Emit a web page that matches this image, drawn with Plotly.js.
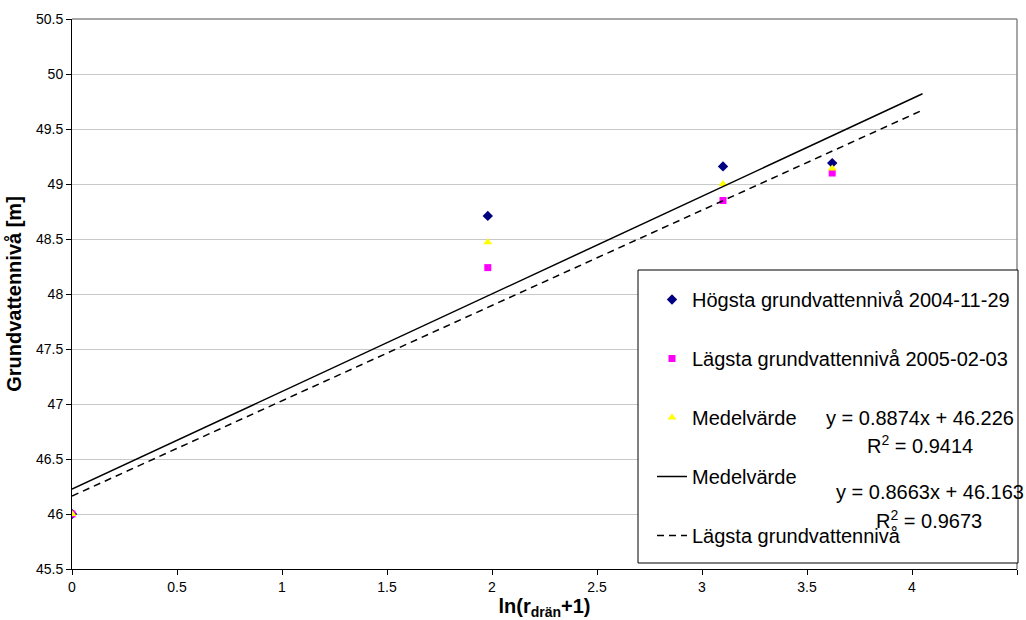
<!DOCTYPE html>
<html><head><meta charset="utf-8">
<script src="https://cdn.plot.ly/plotly-3.0.1.min.js"></script>
<style>body{margin:0;background:#fff}#c{width:1026px;height:620px}</style>
</head><body><div id="c"></div>
<script>
const xVals = [0, 1.98, 3.10, 3.62];
const hogsta = [46.0, 48.71, 49.16, 49.19];
const lagsta = [46.0, 48.24, 48.85, 49.10];
const medel  = [46.0, 48.47, 49.00, 49.14];
const trendX = [0, 4.05];
const medelSlope = 0.8874, medelIntercept = 46.226;
const lagstaSlope = 0.8663, lagstaIntercept = 46.163;
const names = ["Högsta grundvattennivå 2004-11-29","Lägsta grundvattennivå 2005-02-03","Medelvärde","Medelvärde","Lägsta grundvattennivå"];
const eq1 = ["y = 0.8874x + 46.226","R<sup>2</sup> = 0.9414"];
const eq2 = ["y = 0.8663x + 46.163","R<sup>2</sup> = 0.9673"];
const yTicks = [45.5,46,46.5,47,47.5,48,48.5,49,49.5,50,50.5];
const xTicks = [0,0.5,1,1.5,2,2.5,3,3.5,4,4.5];

const L=72,R=1017,T=19,B=569;
const px=x=>(x-L)/(R-L), py=y=>(B-y)/(B-T);
const FAM='"Liberation Sans", Arial, sans-serif';

const traces = [
 {x:xVals,y:hogsta,mode:'markers',name:names[0],legendgroup:'a',marker:{symbol:'diamond',size:8,color:'#000080'}},
 {x:xVals,y:lagsta,mode:'markers',name:names[1],legendgroup:'b',marker:{symbol:'square',size:7,color:'#FF00FF'}},
 {x:xVals,y:medel,mode:'markers',name:names[2],legendgroup:'c',marker:{symbol:'triangle-up',size:8,color:'#FFFF00'}},
 {x:trendX,y:trendX.map(x=>medelSlope*x+medelIntercept),mode:'lines',name:names[3],legendgroup:'d',line:{color:'#000',width:1.5}},
 {x:trendX,y:trendX.map(x=>lagstaSlope*x+lagstaIntercept),mode:'lines',name:names[4],legendgroup:'e',line:{color:'#000',width:1.5,dash:'7px,5px'}}
];
const af={family:FAM,size:20,color:'#000'};
const layout={
 width:1026,height:620,
 margin:{l:L,r:1026-R,t:T,b:620-B},
 paper_bgcolor:'#fff',plot_bgcolor:'#fff',
 font:{family:FAM,color:'#000',size:14},
 showlegend:true,
 legend:{x:px(652),y:py(280),xanchor:'left',yanchor:'top',borderwidth:0,bgcolor:'rgba(0,0,0,0)',
   font:{family:FAM,size:20,color:'#000'},tracegroupgap:30,itemwidth:30,traceorder:'grouped'},
 xaxis:{range:[0,4.5],tickvals:xTicks,ticktext:xTicks.map(String),ticks:'outside',ticklen:5,tickcolor:'#000',
   tickfont:{family:FAM,size:14,color:'#000'},
   showline:true,linecolor:'#000',linewidth:1,showgrid:false,zeroline:false,
   title:{text:'<b>ln(r<sub>drän</sub>+1)</b>',font:{family:FAM,size:20,color:'#000'},standoff:2}},
 yaxis:{range:[45.5,50.5],tickvals:yTicks,ticktext:yTicks.map(String),ticks:'outside',ticklen:5,tickcolor:'#000',
   tickfont:{family:FAM,size:14,color:'#000'},
   showline:true,linecolor:'#000',linewidth:1,showgrid:true,gridcolor:'#c8c8c8',zeroline:false,
   title:{text:'<b>Grundvattennivå [m]</b>',font:{family:FAM,size:20,color:'#000'},standoff:8}},
 shapes:[
  {type:'line',xref:'paper',yref:'paper',x0:0,x1:1,y0:1,y1:1,line:{color:'#888',width:1.5}},
  {type:'line',xref:'paper',yref:'paper',x0:1,x1:1,y0:0,y1:1,line:{color:'#888',width:1.5}},
  {type:'rect',xref:'paper',yref:'paper',x0:px(638),x1:px(1018),y0:py(563),y1:py(270),layer:'above',
   fillcolor:'#fff',line:{color:'#000',width:1}}
 ],
 annotations:[
  {xref:'paper',yref:'paper',x:px(920),y:py(418),text:eq1[0],showarrow:false,font:af,xanchor:'center',yanchor:'middle'},
  {xref:'paper',yref:'paper',x:px(920),y:py(444),text:eq1[1],showarrow:false,font:af,xanchor:'center',yanchor:'middle'},
  {xref:'paper',yref:'paper',x:px(930),y:py(492),text:eq2[0],showarrow:false,font:af,xanchor:'center',yanchor:'middle'},
  {xref:'paper',yref:'paper',x:px(929),y:py(519),text:eq2[1],showarrow:false,font:af,xanchor:'center',yanchor:'middle'}
 ]
};
Plotly.newPlot('c',traces,layout,{displayModeBar:false,staticPlot:true});
</script></body></html>
